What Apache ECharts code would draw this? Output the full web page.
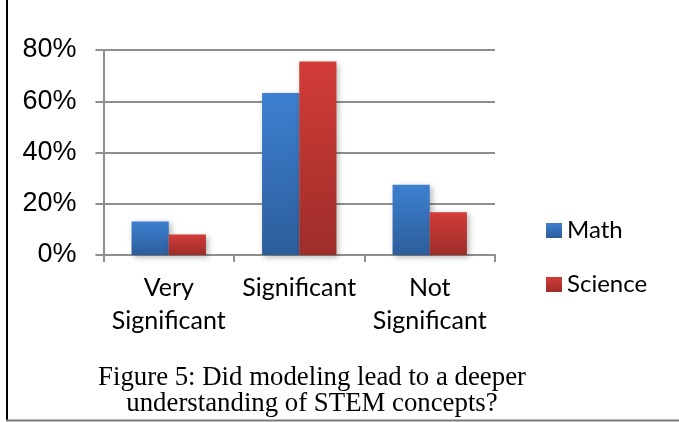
<!DOCTYPE html>
<html>
<head>
<meta charset="utf-8">
<script src="https://cdn.jsdelivr.net/npm/echarts@6/dist/echarts.min.js"></script>
<style>html,body{margin:0;padding:0;background:#fff;}#c{width:679px;height:422px;}</style>
</head>
<body>
<div id="c"></div>
<script>
var categories = ['Very Significant', 'Significant', 'Not Significant'];
var mathValues = [13.1, 63.2, 27.4];
var scienceValues = [8.0, 75.5, 16.7];
var seriesNames = ['Math', 'Science'];
var yTicks = [0, 20, 40, 60, 80];
var captionText = 'Figure 5: Did modeling lead to a deeper\nunderstanding of STEM concepts?';

var chart = echarts.init(document.getElementById('c'));
function grad(top, bottom) {
  return new echarts.graphic.LinearGradient(0, 0, 0, 1, [
    {offset: 0, color: top}, {offset: 1, color: bottom}
  ]);
}
var gridColor = '#8f8f8f';
chart.setOption({
  animation: false,
  backgroundColor: '#fff',
  title: {
    text: captionText,
    left: 307, top: 359.5, textAlign: 'center',
    textStyle: {fontFamily: 'Liberation Serif', fontWeight: 'normal', fontSize: 26.8, lineHeight: 26, color: '#000'}
  },
  legend: {
    orient: 'vertical', left: 541, top: 210,
    itemWidth: 16, itemHeight: 15, itemGap: 23,
    data: seriesNames,
    textStyle: {fontFamily: 'Lato', fontSize: 24, lineHeight: 31, color: '#000'},
    icon: 'rect'
  },
  grid: {left: 103.5, right: 184, top: 50, bottom: 167, containLabel: false},
  xAxis: {
    type: 'category', data: categories,
    axisLine: {lineStyle: {color: gridColor, width: 2}},
    axisTick: {show: true, length: 7, lineStyle: {color: gridColor, width: 2}},
    axisLabel: {
      interval: 0, margin: 16, color: '#000', fontFamily: 'Lato', fontSize: 25, lineHeight: 33,
      formatter: function (v) { return v.replace(' ', '\n'); }
    }
  },
  yAxis: {
    type: 'value', min: yTicks[0], max: yTicks[yTicks.length - 1], interval: 20,
    axisLine: {show: true, lineStyle: {color: gridColor, width: 2}},
    axisTick: {show: true, length: 8, lineStyle: {color: gridColor, width: 2}},
    splitLine: {lineStyle: {color: gridColor, width: 2}},
    axisLabel: {margin: 27, color: '#000', fontFamily: 'Liberation Sans', fontSize: 27, formatter: '{value}%'}
  },
  series: [
    {
      name: seriesNames[0], type: 'bar', data: mathValues, barWidth: '28.5%', barGap: '0%',
      itemStyle: {color: grad('#3d80d0', '#2c5d9b'), shadowBlur: 6, shadowColor: 'rgba(0,0,0,0.3)', shadowOffsetX: 2, shadowOffsetY: 2}
    },
    {
      name: seriesNames[1], type: 'bar', data: scienceValues, barWidth: '28.5%', barGap: '0%',
      itemStyle: {color: grad('#d23c38', '#9e2d2a'), shadowBlur: 6, shadowColor: 'rgba(0,0,0,0.3)', shadowOffsetX: 2, shadowOffsetY: 2}
    }
  ],
  graphic: [
    {type: 'line', shape: {x1: 7, y1: 0, x2: 7, y2: 421}, style: {stroke: '#000', lineWidth: 2}},
    {type: 'line', shape: {x1: 6, y1: 420.5, x2: 679, y2: 420.5}, style: {stroke: '#7a7a7a', lineWidth: 2}}
  ]
});
</script>
</body>
</html>
